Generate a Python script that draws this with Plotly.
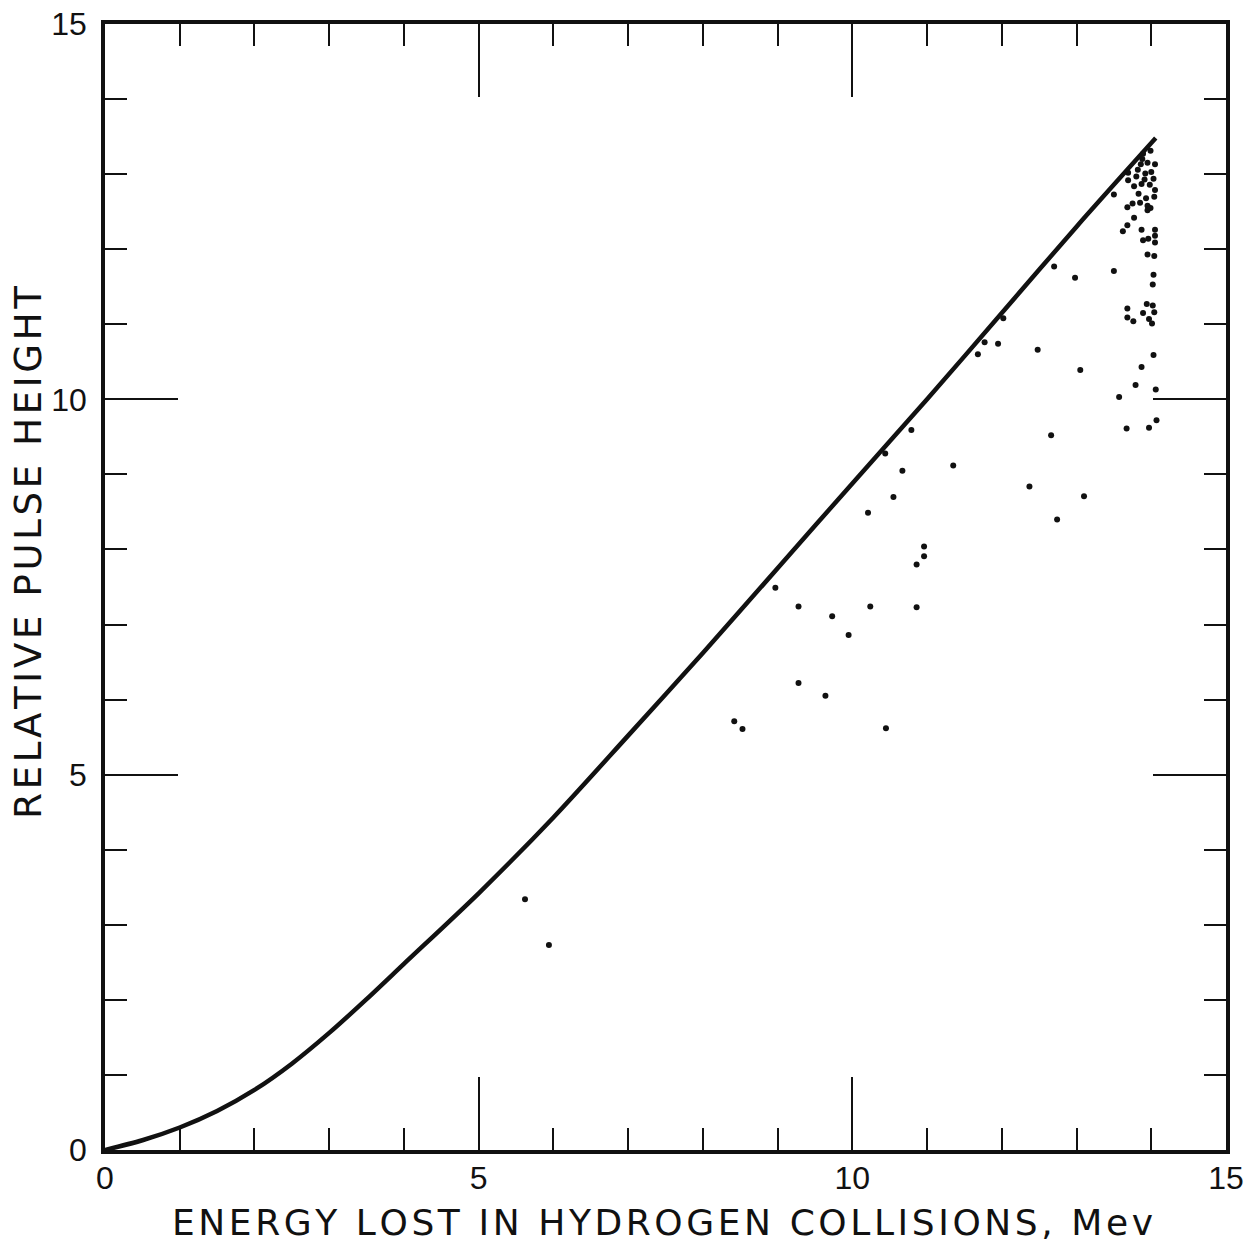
import plotly.graph_objects as go

# Curve: relative pulse height vs energy lost in hydrogen collisions
curve_x = [0, 0.5, 1, 1.5, 2, 2.5, 3, 3.5, 4, 5, 6, 7, 8, 9, 10, 11, 12, 13, 14.06]
curve_y = [0, 0.13, 0.30, 0.52, 0.80, 1.15, 1.56, 2.01, 2.48, 3.42, 4.43, 5.52, 6.62, 7.75, 8.88, 10.0, 11.15, 12.30, 13.48]

# Measured points
dots_x = [13.99, 13.89, 13.88, 13.95, 13.86, 14.05, 13.82, 14.00, 13.69, 13.80,
          13.92, 13.91, 14.03, 13.69, 13.77, 13.87, 13.98, 14.05, 13.83, 13.93,
          14.04, 13.50, 13.85, 13.75, 13.68, 13.95, 13.95, 13.99, 13.77, 13.68,
          13.62, 13.87, 14.05, 13.89, 13.96, 14.05, 14.05, 13.95, 14.04, 12.70,
          12.98, 13.50, 14.03, 14.02, 13.68, 13.94, 14.02, 13.68, 13.76, 13.89,
          14.04, 13.97, 14.01, 14.03, 13.87, 13.05, 13.79, 14.06, 13.57, 14.07,
          13.67, 13.97, 12.66,
          12.02, 11.77, 11.95, 11.68, 12.48, 12.37, 13.10, 12.74, 11.35, 10.79,
          10.44, 10.67, 10.55, 10.21, 10.96, 10.96, 10.86, 8.97, 9.28, 9.73,
          10.24, 10.86, 9.95, 9.28, 9.64, 8.42, 8.53, 10.45, 5.62, 5.94]
dots_y = [13.31, 13.27, 13.20, 13.15, 13.13, 13.13, 13.06, 13.03, 13.02, 12.97,
          13.01, 12.93, 12.94, 12.92, 12.84, 12.87, 12.86, 12.79, 12.74, 12.68,
          12.70, 12.73, 12.62, 12.61, 12.56, 12.58, 12.52, 12.55, 12.42, 12.32,
          12.24, 12.26, 12.26, 12.12, 12.14, 12.18, 12.09, 11.93, 11.91, 11.77,
          11.62, 11.71, 11.66, 11.53, 11.21, 11.27, 11.25, 11.09, 11.04, 11.15,
          11.16, 11.07, 11.01, 10.59, 10.43, 10.39, 10.19, 10.13, 10.03, 9.72,
          9.61, 9.62, 9.52,
          11.08, 10.76, 10.74, 10.60, 10.66, 8.84, 8.71, 8.40, 9.12, 9.59,
          9.28, 9.05, 8.70, 8.49, 8.04, 7.91, 7.80, 7.49, 7.24, 7.11,
          7.24, 7.23, 6.86, 6.22, 6.05, 5.71, 5.61, 5.62, 3.34, 2.73]

x_major = [0, 5, 10, 15]
y_major = [0, 5, 10, 15]
x_title = "ENERGY LOST IN HYDROGEN COLLISIONS, Mev"
y_title = "RELATIVE PULSE HEIGHT"

FONT = "DejaVu Sans"
TICKFONT = "Liberation Sans, DejaVu Sans"
INK = "#111111"
HAIR = "\u200a"


def spaced(s):
    return HAIR.join(list(s))


fig = go.Figure()
fig.add_trace(go.Scatter(x=curve_x, y=curve_y, mode="lines",
                         line=dict(color=INK, width=4.5, shape="spline", smoothing=0.8),
                         hoverinfo="skip", showlegend=False))
fig.add_trace(go.Scatter(x=dots_x, y=dots_y, mode="markers",
                         marker=dict(color=INK, size=6, line=dict(width=0)),
                         showlegend=False))

axis_common = dict(
    range=[0, 15], showgrid=False, zeroline=False, automargin=False,
    showline=True, linecolor=INK, linewidth=3.5, mirror="allticks",
    ticks="inside", ticklen=73, tickwidth=2, tickcolor=INK,
    tickfont=dict(family=TICKFONT, size=32, color=INK),
    minor=dict(ticks="inside", ticklen=22, tickwidth=2, tickcolor=INK,
               dtick=1, tick0=0, showgrid=False),
)

fig.update_xaxes(**axis_common, tickvals=x_major, ticktext=[str(v) for v in x_major],
                 ticklabelstandoff=-3)
fig.update_yaxes(**axis_common, tickvals=y_major, ticktext=[str(v) for v in y_major],
                 ticklabelstandoff=8)

fig.add_annotation(text=spaced(x_title), xref="paper", yref="paper", x=0.497, y=-0.064,
                   xanchor="center", yanchor="middle", showarrow=False,
                   font=dict(family=FONT, size=36, color=INK))
fig.add_annotation(text=spaced(y_title), xref="paper", yref="paper", x=-0.069, y=0.531,
                   xanchor="center", yanchor="middle", showarrow=False, textangle=-90,
                   font=dict(family=FONT, size=37, color=INK))

fig.update_layout(
    width=1251, height=1245,
    margin=dict(l=105, r=25, t=24, b=95),
    paper_bgcolor="white", plot_bgcolor="white",
    showlegend=False,
)

fig.write_html("out.html")
